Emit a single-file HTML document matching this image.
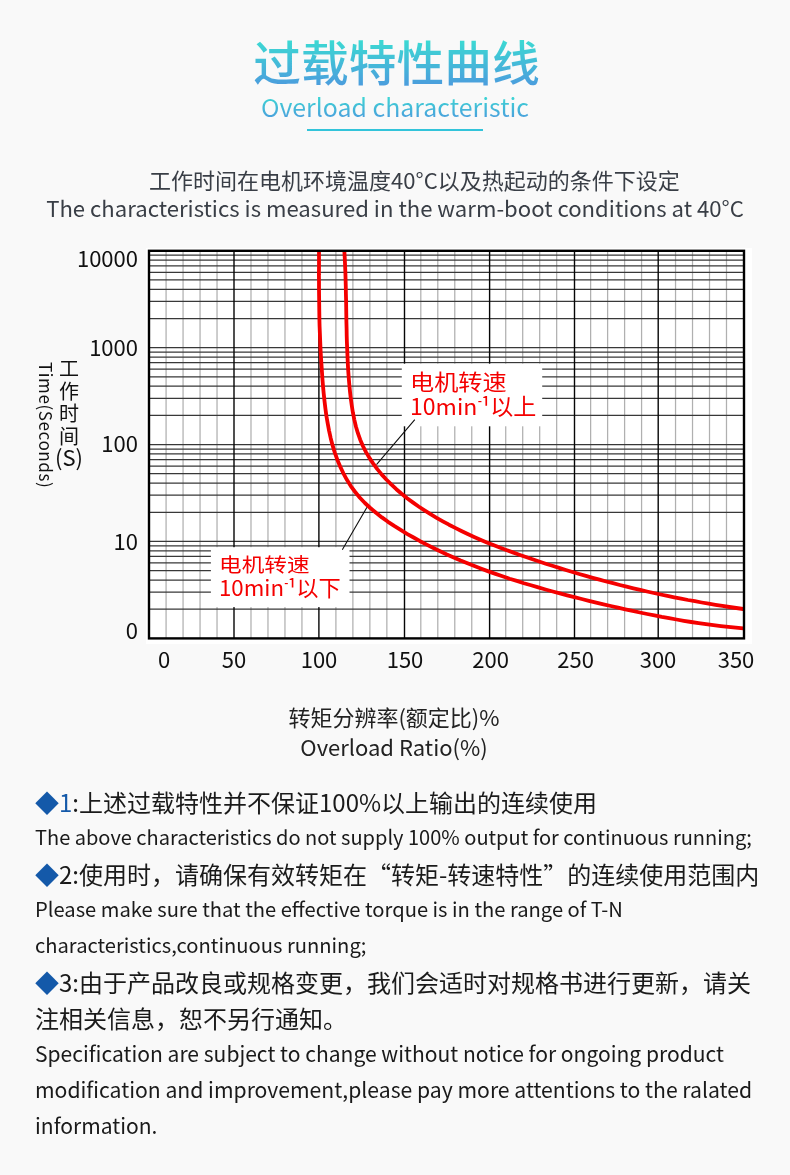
<!DOCTYPE html>
<html lang="zh-CN">
<head>
<meta charset="utf-8">
<title>过载特性曲线 Overload characteristic</title>
<style>
*{margin:0;padding:0;box-sizing:border-box}
html,body{width:790px;height:1175px;overflow:hidden}
html{background:#f9f9f9}
#page{position:absolute;left:0;top:0;width:790px;height:1175px;will-change:transform}
body{font-family:"Noto Sans CJK SC","Liberation Sans",sans-serif;color:#111;position:relative;-webkit-font-smoothing:antialiased}
.abs{position:absolute;white-space:nowrap}
.chart{position:absolute;left:0;top:0}
.grad{background:linear-gradient(180deg,#3cd9d3 21%,#4b9edd 85%);-webkit-background-clip:text;background-clip:text;color:transparent;-webkit-text-fill-color:transparent}
h1.title{left:1.5px;width:790px;top:25.5px;text-align:center;font-size:47.75px;line-height:70px;font-weight:500;letter-spacing:0}
.sub{left:0;width:790px;top:89px;text-align:center;font-size:24.9px;line-height:34px;font-weight:400}
.rule{position:absolute;left:307px;top:129px;width:176px;height:2px;background:#33c4da}
.d1{left:19.4px;width:790px;top:163px;text-align:center;font-size:22px;line-height:32px;color:#393e46}
.d2{left:0;width:790px;top:191px;text-align:center;font-size:22.13px;line-height:32px;color:#393e46}
.yt{width:100px;text-align:right;font-size:22px;line-height:24px;color:#111}
.xt{width:80px;text-align:center;font-size:22px;line-height:24px;color:#111}
.vcn{left:49px;top:357px;width:40px;text-align:center;font-size:20px;line-height:22.5px;color:#111;white-space:normal}
.ven{left:35.8px;top:362px;font-size:17px;letter-spacing:.6px;line-height:20px;color:#111;transform-origin:0 0;transform:rotate(90deg) translate(0,-100%)}
.lab{color:#f40000;font-size:22px;line-height:24px;transform-origin:0 50%}
.sp{font-size:.5em;font-weight:700;line-height:0;vertical-align:.88em;margin:0 0 0 .3px}
.s1{position:relative;top:1.1px;margin:0 -.3px 0 -.9px}
.xl1{left:-1px;width:790px;top:701px;text-align:center;font-size:22px;line-height:30px;color:#222}
.xl2{left:-1px;width:790px;top:731px;text-align:center;font-size:22px;line-height:30px;color:#222}
.cn{left:35px;font-size:24px;line-height:36px;color:#1a1a1a}
.en{left:35px;font-size:20px;line-height:36px;color:#1a1a1a}
.b{color:#1459a9}
</style>
</head>
<body>
<div id="page">
<h1 class="abs title"><span class="grad">过载特性曲线</span></h1>
<div class="abs sub"><span class="grad">Overload characteristic</span></div>
<div class="rule"></div>
<div class="abs d1">工作时间在电机环境温度40°C以及热起动的条件下设定</div>
<div class="abs d2">The characteristics is measured in the warm-boot conditions at 40°C</div>

<svg class="chart" width="790" height="1175" viewBox="0 0 790 1175">
<rect x="146" y="248" width="606" height="396" fill="#fff"/>
<path d="M166.08 250.8V638.4M183.06 250.8V638.4M200.05 250.8V638.4M217.03 250.8V638.4M250.99 250.8V638.4M267.97 250.8V638.4M284.96 250.8V638.4M301.94 250.8V638.4M335.90 250.8V638.4M352.88 250.8V638.4M369.87 250.8V638.4M386.85 250.8V638.4M420.81 250.8V638.4M437.79 250.8V638.4M454.78 250.8V638.4M471.76 250.8V638.4M505.72 250.8V638.4M522.70 250.8V638.4M539.69 250.8V638.4M556.67 250.8V638.4M590.63 250.8V638.4M607.61 250.8V638.4M624.60 250.8V638.4M641.58 250.8V638.4M675.54 250.8V638.4M692.52 250.8V638.4M709.51 250.8V638.4M726.49 250.8V638.4" stroke="#b0b0b0" stroke-width="1.25" fill="none"/>
<path d="M149.0 609.18H744.0M149.0 592.12H744.0M149.0 580.02H744.0M149.0 570.63H744.0M149.0 562.96H744.0M149.0 556.47H744.0M149.0 550.85H744.0M149.0 545.90H744.0M149.0 541.46H744.0M149.0 512.30H744.0M149.0 495.24H744.0M149.0 483.13H744.0M149.0 473.74H744.0M149.0 466.07H744.0M149.0 459.58H744.0M149.0 453.96H744.0M149.0 449.01H744.0M149.0 444.58H744.0M149.0 415.41H744.0M149.0 398.35H744.0M149.0 386.24H744.0M149.0 376.85H744.0M149.0 369.18H744.0M149.0 362.70H744.0M149.0 357.08H744.0M149.0 352.12H744.0M149.0 347.69H744.0M149.0 318.52H744.0M149.0 301.46H744.0M149.0 289.36H744.0M149.0 279.97H744.0M149.0 272.29H744.0M149.0 265.81H744.0M149.0 260.19H744.0M149.0 255.23H744.0" stroke="#383838" stroke-width="1.25" fill="none"/>
<path d="M234.00 250.8V638.4M318.90 250.8V638.4M404.50 250.8V638.4M489.60 250.8V638.4M574.50 250.8V638.4M658.20 250.8V638.4" stroke="#060606" stroke-width="1.4" fill="none"/>
<rect x="401.8" y="363.7" width="140.4" height="62.6" fill="#fff"/>
<rect x="210.9" y="547.2" width="138.6" height="59.9" fill="#fff"/>
<path d="M414.8 419.7L376.5 464.7M342.3 549.8L367 507.2" stroke="#111" stroke-width="1.1" fill="none"/>
<path d="M319.0 251.7L319.0 259.3L319.0 266.8L318.9 274.4L319.0 281.9L319.0 289.3L319.1 296.8L319.2 304.2L319.3 311.7L319.4 319.1L319.6 326.5L319.9 333.9L320.2 341.4L320.5 348.8L320.9 356.2L321.4 363.6L321.9 371.1L322.4 378.6L323.0 386.0L323.7 393.5L324.5 401.0L325.4 408.5L326.4 416.0L327.7 423.4L329.1 430.8L330.7 438.2L332.6 445.4L334.8 452.6L337.3 459.7L340.2 466.6L343.4 473.3L346.9 479.8L350.8 486.1L355.2 492.0L359.9 497.7L364.9 503.0L370.3 508.0L376.0 512.8L381.9 517.4L388.0 521.8L394.2 525.9L400.6 529.9L407.0 533.8L413.6 537.5L420.1 541.2L426.7 544.6L433.4 548.0L440.1 551.3L446.9 554.5L453.7 557.5L460.6 560.5L467.5 563.3L474.4 566.1L481.4 568.8L488.4 571.4L495.5 573.9L502.5 576.3L509.6 578.7L516.8 580.9L523.9 583.2L531.1 585.3L538.3 587.4L545.5 589.5L552.7 591.5L559.9 593.4L567.2 595.3L574.4 597.2L581.7 599.0L588.9 600.8L596.2 602.6L603.5 604.3L610.7 606.0L618.0 607.7L625.3 609.3L632.6 610.9L639.9 612.5L647.2 614.0L654.5 615.4L661.8 616.9L669.1 618.2L676.5 619.5L683.8 620.8L691.2 622.0L698.6 623.1L706.0 624.2L713.4 625.2L720.9 626.1L728.3 626.9L735.8 627.7L743.3 628.4" stroke="#f40000" stroke-width="3.8" stroke-linejoin="round" fill="none"/>
<path d="M344.4 251.8L344.8 258.9L345.1 265.9L345.4 272.9L345.6 279.9L345.8 286.8L345.9 293.8L346.1 300.7L346.2 307.7L346.3 314.6L346.4 321.6L346.6 328.5L346.7 335.5L346.9 342.4L347.2 349.4L347.5 356.4L347.8 363.4L348.2 370.4L348.7 377.4L349.3 384.4L350.0 391.5L350.8 398.6L351.8 405.7L352.9 412.7L354.3 419.6L355.9 426.5L357.9 433.2L360.2 439.7L362.9 446.0L366.0 452.1L369.4 457.9L373.2 463.6L377.3 469.1L381.6 474.4L386.3 479.5L391.2 484.4L396.3 489.2L401.6 493.8L407.1 498.2L412.8 502.4L418.6 506.5L424.5 510.4L430.5 514.2L436.6 517.8L442.8 521.3L449.0 524.7L455.2 527.9L461.4 531.0L467.7 534.0L474.1 536.9L480.4 539.7L486.8 542.4L493.3 545.0L499.7 547.5L506.2 550.0L512.8 552.4L519.3 554.7L525.9 557.0L532.5 559.3L539.1 561.5L545.7 563.7L552.4 565.8L559.1 567.9L565.8 570.0L572.5 572.0L579.2 574.0L585.9 575.9L592.7 577.8L599.5 579.7L606.2 581.5L613.0 583.2L619.8 585.0L626.6 586.7L633.4 588.3L640.2 589.9L647.0 591.5L653.8 593.0L660.6 594.5L667.4 595.9L674.3 597.3L681.1 598.6L688.0 600.0L694.9 601.2L701.7 602.5L708.6 603.7L715.5 604.8L722.4 605.9L729.3 607.0L736.3 608.0L743.2 609.0" stroke="#f40000" stroke-width="3.8" stroke-linejoin="round" fill="none"/>
<rect x="149.0" y="250.8" width="595.0" height="387.6" fill="none" stroke="#000" stroke-width="2.4"/>
</svg>

<div class="abs yt" style="left:38px;top:245px">10000</div>
<div class="abs yt" style="left:38px;top:334px">1000</div>
<div class="abs yt" style="left:38px;top:430px">100</div>
<div class="abs yt" style="left:38px;top:528px">10</div>
<div class="abs yt" style="left:38px;top:617px">0</div>

<div class="abs vcn">工<br>作<br>时<br>间<br><span style="font-size:22px;position:relative;top:-2px">(S)</span></div>
<div class="abs ven">Time(Seconds)</div>

<div class="abs xt" style="left:124px;top:646px">0</div>
<div class="abs xt" style="left:194px;top:646px">50</div>
<div class="abs xt" style="left:279px;top:646px">100</div>
<div class="abs xt" style="left:365px;top:646px">150</div>
<div class="abs xt" style="left:450.6px;top:646px">200</div>
<div class="abs xt" style="left:535.6px;top:646px">250</div>
<div class="abs xt" style="left:618px;top:646px">300</div>
<div class="abs xt" style="left:696px;top:646px">350</div>

<div class="abs lab" style="left:409.7px;top:369px;font-size:21.2px;transform:scaleX(1.14)">电机转速</div>
<div class="abs lab" style="left:410.2px;top:393px;font-size:22.4px;transform:scaleX(1.03)">10min<sup class="sp">-</sup><span class="s1">¹</span>以上</div>
<div class="abs lab" style="left:218.6px;top:552px;font-size:19.7px;transform:scaleX(1.15)">电机转速</div>
<div class="abs lab" style="left:219.4px;top:575px;font-size:21.6px;transform:scaleX(1.03)">10min<sup class="sp">-</sup><span class="s1">¹</span>以下</div>

<div class="abs xl1">转矩分辨率(额定比)%</div>
<div class="abs xl2">Overload Ratio(%)</div>

<div class="abs cn" style="top:784px"><span class="b">◆1</span>:上述过载特性并不保证100%以上输出的连续使用</div>
<div class="abs en" style="top:819px;font-size:20.03px">The above characteristics do not supply 100% output for continuous running;</div>
<div class="abs cn" style="top:856px"><span class="b">◆</span>2:使用时，请确保有效转矩在“转矩-转速特性”的连续使用范围内</div>
<div class="abs en" style="top:891px;font-size:20.17px">Please make sure that the effective torque is in the range of T-N</div>
<div class="abs en" style="top:927px;font-size:20.17px">characteristics,continuous running;</div>
<div class="abs cn" style="top:964px"><span class="b">◆</span>3:由于产品改良或规格变更，我们会适时对规格书进行更新，请关</div>
<div class="abs cn" style="top:1000px">注相关信息，恕不另行通知。</div>
<div class="abs en" style="top:1035px;font-size:21.07px">Specification are subject to change without notice for ongoing product</div>
<div class="abs en" style="top:1071px;font-size:21.17px">modification and improvement,please pay more attentions to the ralated</div>
<div class="abs en" style="top:1107px;font-size:21.07px">information.</div>
</div>
</body>
</html>
